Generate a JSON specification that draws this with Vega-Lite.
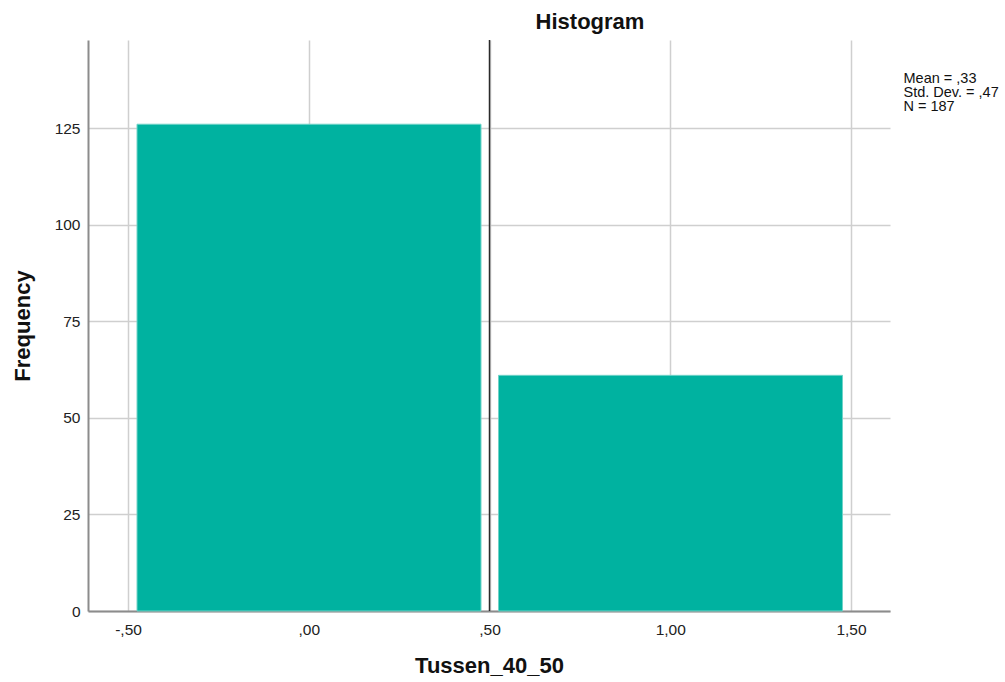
{
  "$schema": "https://vega.github.io/schema/vega-lite/v6.json",
  "width": 802,
  "height": 571,
  "autosize": {"type": "none"},
  "padding": {"left": 88, "top": 40, "right": 115, "bottom": 71},
  "background": "white",
  "config": {
    "font": "Liberation Sans",
    "view": {"stroke": null},
    "axis": {
      "domainColor": "#8c8c8c",
      "domainWidth": 2,
      "gridColor": "#cfcfcf",
      "gridWidth": 1.5,
      "ticks": false,
      "labelFont": "Liberation Sans",
      "labelFontSize": 15.5,
      "labelColor": "#222222",
      "titleFont": "Liberation Sans",
      "titleFontSize": 22,
      "titleFontWeight": "bold",
      "titleColor": "#111111"
    }
  },
  "title": {
    "text": "Histogram",
    "fontSize": 22,
    "fontWeight": "bold",
    "font": "Liberation Sans",
    "color": "#111111",
    "anchor": "middle",
    "dx": 101,
    "offset": 5
  },
  "layer": [
    {
      "data": {
        "values": [
          {"bin_start": -0.5, "bin_end": 0.5, "count": 126},
          {"bin_start": 0.5, "bin_end": 1.5, "count": 61}
        ]
      },
      "mark": {
        "type": "rect",
        "color": "#00b2a0",
        "stroke": "#6fd3c8",
        "strokeWidth": 1,
        "xOffset": 9,
        "x2Offset": -8.5
      },
      "encoding": {
        "x": {
          "field": "bin_start",
          "type": "quantitative",
          "scale": {"domain": [-0.6107, 1.6079], "nice": false, "zero": false},
          "axis": {
            "values": [-0.5, 0, 0.5, 1, 1.5],
            "labelExpr": "replace(replace(replace(format(datum.value, '.2f'), '\u2212', '-'), '0.', '.'), '.', ',')",
            "labelPadding": 11,
            "title": "Tussen_40_50",
            "titlePadding": 18
          }
        },
        "x2": {"field": "bin_end"},
        "y": {
          "field": "count",
          "type": "quantitative",
          "scale": {"domain": [0, 147.8], "nice": false},
          "axis": {
            "values": [0, 25, 50, 75, 100, 125],
            "labelPadding": 8,
            "title": "Frequency",
            "titlePadding": 20
          }
        },
        "y2": {"datum": 0}
      }
    },
    {
      "data": {"values": [{"ref": 0.5}]},
      "mark": {"type": "rule", "color": "#2a2a2a", "strokeWidth": 1.5},
      "encoding": {
        "x": {"field": "ref", "type": "quantitative"}
      }
    },
    {
      "data": {
        "values": [
          {"stat": "Mean = ,33"},
          {"stat": "Std. Dev. = ,47"},
          {"stat": "N = 187"}
        ]
      },
      "mark": {"type": "point", "opacity": 0},
      "encoding": {
        "color": {
          "field": "stat",
          "type": "nominal",
          "scale": {"domain": ["Mean = ,33", "Std. Dev. = ,47", "N = 187"], "range": ["white", "white", "white"]},
          "legend": {
            "title": null,
            "orient": "none",
            "legendX": 801,
            "legendY": 32,
            "symbolSize": 0,
            "symbolStrokeWidth": 0,
            "symbolOpacity": 0,
            "labelOffset": 0,
            "rowPadding": -1,
            "labelFontSize": 14.5,
            "labelFont": "Liberation Sans",
            "labelColor": "#111111",
            "padding": 0
          }
        }
      }
    }
  ]
}
